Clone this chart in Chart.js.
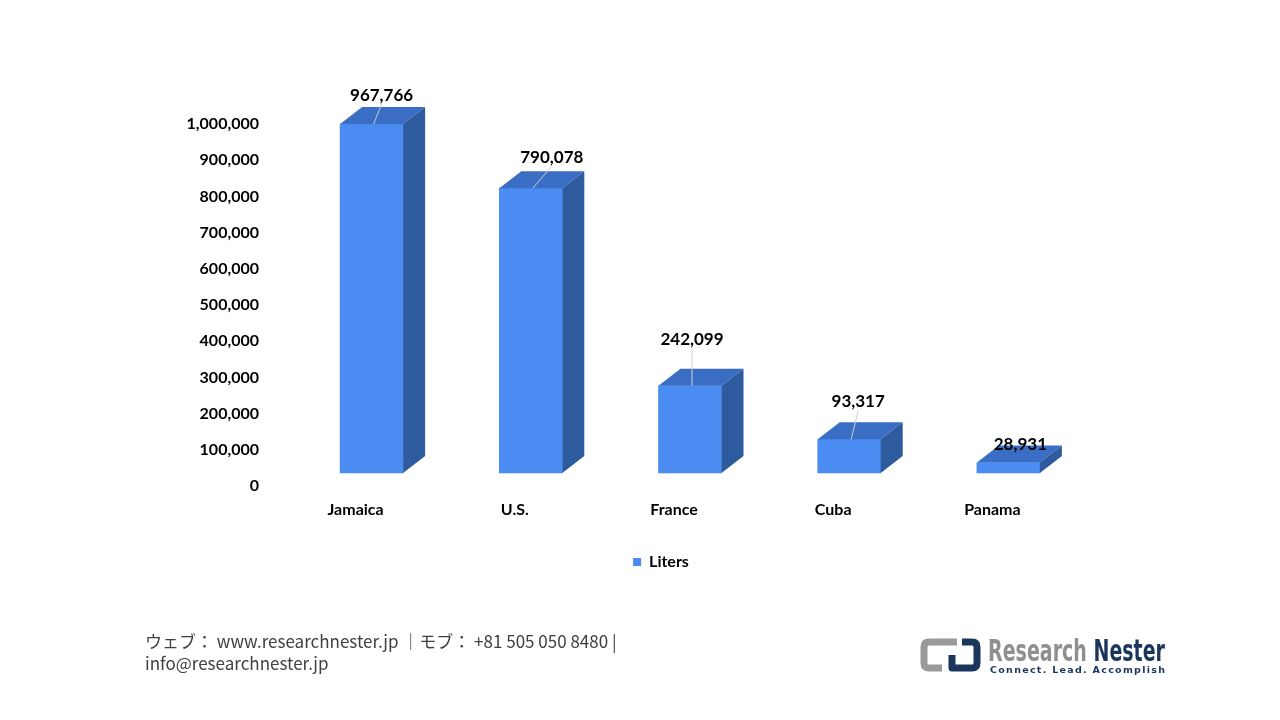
<!DOCTYPE html>
<html>
<head>
<meta charset="utf-8">
<script src="https://cdn.jsdelivr.net/npm/chart.js@4.4.1/dist/chart.umd.min.js"></script>
<style>
  html,body{margin:0;padding:0;background:#fff;width:1280px;height:720px;overflow:hidden;}
  #wrap{position:relative;width:1280px;height:720px;}
  #c{position:absolute;left:0;top:0;}
  #footer{position:absolute;left:145px;top:630px;font-family:"Noto Sans CJK JP","Noto Sans",sans-serif;font-size:17px;line-height:22px;color:#404040;white-space:nowrap;}
  #logo{position:absolute;left:0;top:0;}
</style>
</head>
<body>
<div id="wrap">
<canvas id="c" width="1280" height="720"></canvas>
<div id="footer">ウェブ： www.researchnester.jp ｜モブ： +81 505 050 8480 |<br>info@researchnester.jp</div>
<svg id="logo" width="1280" height="720" viewBox="0 0 1280 720">
  <path d="M957,642 H929 Q924,642 924,647 V663 Q924,668 929,668 H942" fill="none" stroke="#9a9a9a" stroke-width="7" stroke-linejoin="round"/>
  <path d="M962,642 H972 Q977,642 977,647 V663 Q977,668 972,668 H952 V655" fill="none" stroke="#1b365d" stroke-width="7" stroke-linejoin="round"/>
  <text x="988" y="661" font-family="'Liberation Sans Narrow','DejaVu Sans Condensed',sans-serif" font-weight="bold" font-size="30" textLength="177" lengthAdjust="spacingAndGlyphs"><tspan fill="#8f8f8f">Research </tspan><tspan fill="#1b365d">Nester</tspan></text>
  <text x="990" y="673" font-family="'DejaVu Sans','Liberation Sans',sans-serif" font-weight="bold" font-size="9.5" fill="#1b365d" textLength="175" lengthAdjust="spacing">Connect. Lead. Accomplish</text>
</svg>
</div>
<script>
const categories = ["Jamaica", "U.S.", "France", "Cuba", "Panama"];
const liters = [967766, 790078, 242099, 93317, 28931];
const seriesName = "Liters";
const yTickStep = 100000;
const yTickMax = 1000000;

const FRONT = "#4a8cf1";
const TOP = "#3a6ec5";
const SIDE = "#2e5a9e";
const DEPTH_X = 22, DEPTH_Y = 17;
const labelNudge = [[-1,0],[10,-2],[-9,-17],[-2,-9],[1,11]];
const FONT = "Lato, 'Open Sans', sans-serif";

const fmt = v => v.toLocaleString("en-US");

const box3d = {
  id: "box3d",
  afterDatasetsDraw(chart) {
    const ctx = chart.ctx;
    const meta = chart.getDatasetMeta(0);
    ctx.save();
    meta.data.forEach((bar, i) => {
      const p = bar.getProps(["x","y","base","width"], true);
      const L = p.x - p.width/2, R = p.x + p.width/2, T = p.y, B = p.base;
      ctx.fillStyle = TOP;
      ctx.beginPath();
      ctx.moveTo(L, T); ctx.lineTo(R, T); ctx.lineTo(R + DEPTH_X, T - DEPTH_Y); ctx.lineTo(L + DEPTH_X, T - DEPTH_Y);
      ctx.closePath(); ctx.fill();
      ctx.fillStyle = SIDE;
      ctx.beginPath();
      ctx.moveTo(R, T); ctx.lineTo(R + DEPTH_X, T - DEPTH_Y); ctx.lineTo(R + DEPTH_X, B - DEPTH_Y); ctx.lineTo(R, B);
      ctx.closePath(); ctx.fill();
    });
    meta.data.forEach((bar, i) => {
      const p = bar.getProps(["x","y","base","width"], true);
      const n = labelNudge[i] || [0,0];
      const lx = p.x + DEPTH_X/2 + n[0];
      const ly = p.y - DEPTH_Y - 12 + n[1];
      const sx = p.x + 2, sy = p.y;
      const ey = ly + 9;
      if (sy - ey > 12) {
        ctx.strokeStyle = "#c9cfd8";
        ctx.lineWidth = 1;
        ctx.beginPath();
        ctx.moveTo(sx, sy);
        ctx.lineTo(lx, ey);
        ctx.stroke();
      }
      ctx.fillStyle = "#000";
      ctx.font = "bold 17px " + FONT;
      ctx.textAlign = "center";
      ctx.textBaseline = "middle";
      ctx.fillText(fmt(liters[i]), lx, ly);
    });
    ctx.restore();
  }
};

new Chart(document.getElementById("c"), {
  type: "bar",
  data: {
    labels: categories,
    datasets: [{
      label: seriesName,
      data: liters,
      backgroundColor: FRONT,
      borderWidth: 0,
      barThickness: 63,
      yAxisID: "y2",
      clip: false
    }]
  },
  options: {
    responsive: false,
    animation: false,
    devicePixelRatio: 1,
    layout: { padding: { left: 42, right: 0, top: 124, bottom: 140 } },
    scales: {
      x: {
        grid: { display: false, drawTicks: false },
        border: { display: false },
        ticks: { color: "#000", font: { family: FONT, size: 16, weight: "bold" }, padding: 14, labelOffset: -16 },
        afterFit(s) { s.height = 58; }
      },
      y: {
        position: "left",
        min: 0, max: yTickMax,
        grid: { display: false, drawTicks: false },
        border: { display: false },
        ticks: { stepSize: yTickStep, color: "#000", padding: 33, font: { family: FONT, size: 16, weight: "bold" }, callback: v => fmt(v) },
        afterFit(s) { s.width = 250; }
      },
      y2: {
        display: false,
        min: -36000, max: 968000
      },
      yr: {
        position: "right",
        min: 0, max: 1,
        grid: { display: false, drawTicks: false },
        border: { display: false },
        ticks: { display: false },
        afterFit(s) { s.width = 192; }
      }
    },
    plugins: {
      legend: {
        position: "bottom",
        labels: { boxWidth: 8, boxHeight: 8, color: "#000", font: { family: FONT, size: 16, weight: "bold" }, padding: 10 }
      },
      tooltip: { enabled: false }
    }
  },
  plugins: [box3d]
});
</script>
</body>
</html>
